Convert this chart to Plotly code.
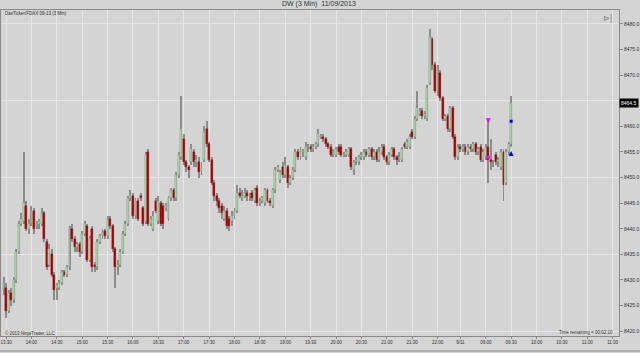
import plotly.graph_objects as go

# ---------------- data ----------------
opens = [8428.0, 8428.5, 8424.0, 8427.5, 8426.0, 8430.0, 8435.5, 8441.0, 8441.5, 8444.5,
         8440.0, 8441.0, 8443.5, 8440.5, 8441.0, 8441.0, 8443.0, 8437.5, 8433.0, 8435.0,
         8431.0, 8428.5, 8428.5, 8429.5, 8431.5, 8431.0, 8432.5, 8440.0, 8438.0, 8436.5,
         8437.0, 8435.5, 8439.0, 8440.5, 8434.0, 8440.0, 8433.0, 8432.5, 8437.5, 8438.5,
         8439.5, 8438.5, 8442.0, 8440.5, 8436.0, 8432.5, 8433.0, 8435.5, 8439.0, 8441.0,
         8446.0, 8446.5, 8442.5, 8445.5, 8446.5, 8444.0, 8441.5, 8455.0, 8441.0, 8440.0,
         8445.5, 8441.5, 8445.0, 8444.5, 8444.0, 8442.0, 8446.0, 8447.5, 8446.0, 8450.5,
         8454.0, 8457.5, 8453.0, 8452.0, 8453.0, 8455.0, 8453.0, 8453.0, 8451.0, 8453.5,
         8459.5, 8456.5, 8453.5, 8449.0, 8446.5, 8445.5, 8444.5, 8442.0, 8443.5, 8442.0,
         8441.5, 8442.5, 8443.5, 8447.0, 8446.0, 8446.5, 8447.0, 8446.5, 8447.0, 8445.5,
         8448.0, 8445.0, 8445.5, 8445.0, 8447.5, 8445.5, 8444.5, 8447.5, 8451.5, 8449.5,
         8452.0, 8450.5, 8452.0, 8449.0, 8450.0, 8451.5, 8455.0, 8454.0, 8455.0, 8454.0,
         8455.5, 8456.0, 8455.5, 8456.0, 8456.5, 8458.0, 8458.0, 8457.5, 8456.5, 8456.0,
         8454.5, 8454.5, 8456.0, 8456.0, 8454.5, 8454.5, 8454.5, 8455.5, 8451.5, 8453.0,
         8453.0, 8454.0, 8454.0, 8455.0, 8454.5, 8455.5, 8454.0, 8455.0, 8453.5, 8455.0,
         8456.0, 8454.0, 8453.0, 8454.5, 8455.5, 8454.0, 8453.5, 8453.5, 8456.5, 8456.0,
         8456.0, 8459.0, 8458.0, 8461.5, 8462.5, 8463.0, 8462.0, 8461.5, 8468.5, 8477.0,
         8472.0, 8467.0, 8470.5, 8465.5, 8461.5, 8462.0, 8459.5, 8463.5, 8458.0, 8454.0,
         8456.0, 8455.5, 8456.0, 8455.0, 8456.0, 8455.5, 8456.5, 8455.0, 8456.0, 8453.5,
         8454.0, 8456.0, 8453.5, 8453.0, 8454.5, 8453.0, 8452.0, 8455.0, 8449.0, 8455.0,
         8456.5]
highs = [8430.5, 8429.5, 8428.0, 8428.5, 8430.5, 8436.0, 8441.5, 8443.0, 8455.0, 8445.5,
         8442.0, 8444.5, 8444.0, 8441.5, 8442.0, 8444.0, 8443.5, 8438.0, 8437.0, 8436.0,
         8431.5, 8429.5, 8430.0, 8432.0, 8432.0, 8433.0, 8440.5, 8441.0, 8438.5, 8437.5,
         8437.5, 8439.5, 8441.5, 8441.0, 8438.5, 8440.5, 8433.5, 8438.0, 8439.0, 8440.0,
         8440.0, 8442.5, 8442.5, 8441.0, 8436.5, 8434.0, 8436.0, 8439.5, 8441.5, 8446.5,
         8447.5, 8447.0, 8446.0, 8446.0, 8447.0, 8444.5, 8455.0, 8455.5, 8442.5, 8443.5,
         8446.0, 8446.5, 8445.5, 8445.0, 8445.0, 8446.5, 8448.0, 8448.0, 8451.0, 8455.0,
         8466.0, 8458.5, 8453.5, 8452.5, 8456.5, 8455.5, 8454.5, 8454.0, 8453.0, 8460.0,
         8461.0, 8457.0, 8454.0, 8449.5, 8447.0, 8446.0, 8445.0, 8444.5, 8444.0, 8442.5,
         8443.5, 8444.0, 8448.5, 8448.0, 8447.5, 8448.0, 8447.5, 8447.0, 8447.5, 8448.0,
         8448.5, 8446.0, 8446.5, 8448.0, 8448.0, 8446.0, 8448.0, 8452.0, 8452.5, 8451.5,
         8453.0, 8454.0, 8452.5, 8450.5, 8452.0, 8455.5, 8455.5, 8456.0, 8455.5, 8457.0,
         8456.5, 8456.5, 8456.5, 8457.0, 8459.5, 8458.5, 8458.5, 8458.0, 8457.0, 8456.5,
         8455.5, 8456.0, 8456.5, 8456.5, 8455.0, 8455.5, 8456.0, 8456.0, 8453.5, 8454.0,
         8454.5, 8455.0, 8455.5, 8455.5, 8456.0, 8456.0, 8455.5, 8455.5, 8456.0, 8456.5,
         8456.5, 8454.5, 8455.0, 8456.0, 8456.0, 8454.5, 8455.0, 8456.0, 8457.0, 8457.5,
         8458.5, 8459.5, 8462.0, 8467.0, 8463.5, 8463.5, 8463.0, 8468.0, 8479.0, 8477.5,
         8472.5, 8472.0, 8471.0, 8466.0, 8462.5, 8462.5, 8464.0, 8464.0, 8458.5, 8456.5,
         8456.5, 8456.5, 8456.5, 8456.5, 8456.5, 8457.0, 8457.0, 8456.0, 8456.5, 8455.5,
         8456.5, 8461.5, 8457.5, 8453.5, 8455.0, 8454.0, 8455.5, 8455.5, 8455.5, 8457.0,
         8466.0]
lows = [8427.0, 8422.5, 8423.5, 8425.0, 8425.5, 8429.5, 8435.0, 8440.5, 8441.0, 8439.5,
        8439.0, 8440.5, 8439.0, 8440.0, 8440.0, 8440.5, 8437.5, 8432.0, 8432.5, 8430.5,
        8426.0, 8426.0, 8428.0, 8429.0, 8430.5, 8430.5, 8432.0, 8437.5, 8435.5, 8435.5,
        8434.5, 8435.0, 8438.5, 8433.5, 8433.5, 8431.5, 8431.5, 8432.0, 8437.0, 8438.0,
        8438.0, 8438.0, 8440.0, 8435.5, 8428.5, 8431.0, 8432.5, 8435.0, 8438.5, 8440.5,
        8445.5, 8442.0, 8442.0, 8441.5, 8445.5, 8440.5, 8441.0, 8440.5, 8440.5, 8439.5,
        8443.0, 8441.0, 8440.5, 8440.0, 8443.5, 8441.5, 8445.5, 8445.5, 8445.5, 8450.0,
        8453.5, 8452.5, 8451.0, 8450.0, 8452.5, 8452.0, 8452.0, 8450.0, 8450.5, 8453.0,
        8456.0, 8453.0, 8448.5, 8445.5, 8444.5, 8443.0, 8442.0, 8441.5, 8440.0, 8439.5,
        8440.5, 8442.0, 8443.0, 8446.0, 8445.5, 8446.0, 8445.5, 8445.5, 8445.5, 8445.0,
        8444.5, 8444.5, 8445.0, 8444.5, 8445.0, 8444.5, 8444.0, 8447.0, 8451.0, 8449.0,
        8450.0, 8450.0, 8448.0, 8448.5, 8449.5, 8451.0, 8453.5, 8453.5, 8454.0, 8453.5,
        8455.0, 8455.0, 8455.0, 8455.5, 8456.0, 8457.5, 8457.0, 8456.0, 8455.5, 8454.0,
        8454.0, 8454.0, 8454.5, 8454.0, 8454.0, 8454.0, 8454.0, 8451.5, 8450.5, 8452.5,
        8452.5, 8453.5, 8453.5, 8454.0, 8454.0, 8453.5, 8453.5, 8453.0, 8453.0, 8454.5,
        8453.5, 8452.5, 8452.5, 8454.0, 8453.5, 8452.5, 8453.0, 8453.0, 8455.5, 8455.5,
        8455.5, 8457.5, 8457.5, 8461.0, 8462.0, 8461.5, 8461.5, 8461.0, 8468.0, 8471.0,
        8466.5, 8466.0, 8465.0, 8461.0, 8461.0, 8459.0, 8459.0, 8457.5, 8453.5, 8453.5,
        8455.0, 8455.0, 8454.5, 8454.5, 8455.0, 8455.0, 8454.5, 8454.5, 8453.0, 8453.0,
        8453.5, 8449.0, 8451.5, 8452.0, 8452.5, 8452.0, 8451.5, 8445.5, 8448.5, 8454.5,
        8456.0]
closes = [8429.5, 8424.0, 8427.5, 8426.0, 8430.0, 8435.5, 8441.0, 8442.0, 8445.0, 8440.0,
          8441.0, 8443.5, 8440.0, 8441.0, 8441.5, 8443.0, 8438.0, 8432.5, 8436.0, 8431.0,
          8428.0, 8429.0, 8429.5, 8431.5, 8431.0, 8432.5, 8440.0, 8438.0, 8436.5, 8437.0,
          8435.5, 8439.0, 8441.0, 8434.0, 8438.0, 8432.5, 8432.5, 8437.5, 8438.5, 8439.5,
          8438.5, 8442.0, 8440.5, 8436.0, 8432.5, 8433.0, 8435.5, 8439.0, 8441.0, 8446.0,
          8446.5, 8442.5, 8445.5, 8442.0, 8446.0, 8441.0, 8454.5, 8441.0, 8442.0, 8442.5,
          8443.5, 8445.5, 8441.0, 8441.0, 8444.5, 8446.0, 8447.5, 8446.0, 8450.5, 8454.5,
          8459.5, 8453.0, 8452.0, 8451.5, 8455.5, 8453.0, 8453.5, 8451.0, 8452.0, 8459.0,
          8456.5, 8453.5, 8449.0, 8446.5, 8445.5, 8444.0, 8443.0, 8443.5, 8440.5, 8440.5,
          8442.5, 8443.5, 8447.0, 8446.5, 8446.5, 8447.0, 8446.5, 8446.5, 8446.0, 8447.5,
          8445.0, 8445.5, 8446.0, 8447.5, 8445.5, 8445.0, 8447.5, 8451.5, 8452.0, 8451.0,
          8450.5, 8452.5, 8449.0, 8450.0, 8451.5, 8455.0, 8454.0, 8455.0, 8455.0, 8456.0,
          8455.5, 8455.5, 8456.0, 8456.5, 8458.5, 8458.0, 8457.5, 8456.5, 8456.0, 8454.5,
          8455.0, 8455.5, 8455.0, 8454.5, 8454.5, 8455.0, 8455.5, 8452.0, 8453.0, 8453.5,
          8454.0, 8454.5, 8455.0, 8454.5, 8455.5, 8454.0, 8455.0, 8453.5, 8455.0, 8456.0,
          8454.0, 8453.0, 8454.5, 8455.5, 8454.0, 8453.5, 8454.0, 8455.5, 8456.0, 8457.0,
          8458.0, 8458.0, 8461.5, 8463.5, 8463.0, 8462.0, 8462.5, 8467.5, 8477.5, 8472.0,
          8467.0, 8471.0, 8465.5, 8461.5, 8462.0, 8459.5, 8463.5, 8458.0, 8454.0, 8456.0,
          8455.5, 8456.0, 8455.0, 8456.0, 8455.5, 8456.5, 8455.0, 8455.5, 8453.5, 8455.0,
          8456.0, 8453.5, 8453.0, 8453.0, 8453.0, 8453.5, 8455.0, 8448.5, 8455.0, 8456.5,
          8464.5]
bars = list(range(len(closes)))

tick_bars = [1, 11, 21, 31, 41, 51, 61, 71, 81, 91, 101, 111, 121, 131, 141, 151, 161, 171,
             180, 190, 200, 210, 220, 230, 240]
tick_text = ["13:30", "14:00", "14:30", "15:00", "15:30", "16:00", "16:30", "17:00", "17:30",
             "18:00", "18:30", "19:00", "19:30", "20:00", "20:30", "21:00", "21:30", "22:00",
             "9/11", "09:00", "09:30", "10:00", "10:30", "11:00", "11:30"]

price_ticks = [8420, 8425, 8430, 8435, 8440, 8445, 8450, 8455, 8460, 8465, 8470, 8475, 8480]
price_labels = ["8420.0", "8425.0", "8430.0", "8435.0", "8440.0", "8445.0", "8450.0",
                "8455.0", "8460.0", "", "8470.0", "8475.0", "8480.0"]
grid_levels = [8420, 8435, 8450, 8465, 8480]

sell_bar = [191]
sell_arrow = [8460.6]
sell_fill = [8454.0]
buy_bar = [200]
buy_arrow = [8455.2]
buy_fill = [8461.0]

y_range = [8419.06, 8482.73]
x_range = [-1.0, 242.5]

BG = "#d4d4d4"
GRID = "#e6e6e6"
FONT = "Liberation Sans"
UP = "#a9d7a9"
DOWN = "#ac0000"
WICK = "#8c8c8c"

wick_size = [h - l for h, l in zip(highs, lows)]
body_base = [min(o, c) for o, c in zip(opens, closes)]
body_size = [max(abs(c - o), 0.12) for o, c in zip(opens, closes)]
body_color = [UP if c >= o else DOWN for o, c in zip(opens, closes)]
body_line = ["#7f907f" if c >= o else "#8a2020" for o, c in zip(opens, closes)]

fig = go.Figure()
# wicks
fig.add_trace(go.Bar(
    x=bars, y=wick_size, base=lows, width=0.38,
    marker=dict(color=WICK, line=dict(width=0)),
    showlegend=False, hoverinfo="skip",
))
# candle bodies
fig.add_trace(go.Bar(
    x=bars, y=body_size, base=body_base, width=0.75,
    marker=dict(color=body_color, line=dict(color=body_line, width=0.4)),
    showlegend=False, hoverinfo="skip",
))
fig.add_trace(go.Scatter(x=sell_bar, y=sell_arrow, mode="markers", showlegend=False,
                         marker=dict(symbol="arrow-down", size=5, color="#ff00ff")))
fig.add_trace(go.Scatter(x=sell_bar, y=sell_fill, mode="markers", showlegend=False,
                         marker=dict(symbol="square", size=3, color="#ff00ff")))
fig.add_trace(go.Scatter(x=buy_bar, y=buy_arrow, mode="markers", showlegend=False,
                         marker=dict(symbol="arrow-up", size=5, color="#0000ff")))
fig.add_trace(go.Scatter(x=buy_bar, y=buy_fill, mode="markers", showlegend=False,
                         marker=dict(symbol="square", size=3, color="#0000ff")))
# invisible trace to carry the coarse horizontal grid axis
fig.add_trace(go.Scatter(x=[bars[0]], y=[closes[0]], yaxis="y2", mode="markers",
                         marker=dict(opacity=0), showlegend=False, hoverinfo="skip"))

fig.update_layout(
    width=640, height=353,
    margin=dict(l=0, r=19, t=10, b=17),
    paper_bgcolor=BG, plot_bgcolor=BG,
    barmode="overlay", bargap=0,
    font=dict(family=FONT, size=5, color="#333333"),
    xaxis=dict(range=x_range, tickmode="array", tickvals=tick_bars, ticktext=tick_text,
               showgrid=True, gridcolor=GRID, gridwidth=1, zeroline=False,
               showline=True, linecolor="#8a8a8a", linewidth=1, mirror=True,
               ticks="outside", ticklen=2, tickcolor="#8a8a8a", ticklabeloverflow="allow",
               tickfont=dict(size=4.5, color="#333333"), fixedrange=True),
    yaxis=dict(range=y_range, side="right", tickmode="array", tickvals=price_ticks,
               ticktext=price_labels,
               showgrid=False, zeroline=False, showline=True, linecolor="#8a8a8a",
               linewidth=1, mirror=True, ticks="outside", ticklen=3, tickcolor="#8a8a8a",
               tickfont=dict(size=5, color="#333333")),
    yaxis2=dict(range=y_range, overlaying="y", side="right", tickmode="array",
                tickvals=grid_levels, showgrid=True, gridcolor=GRID, gridwidth=1,
                showticklabels=False, ticks="", zeroline=False, showline=False),
)

last_close = closes[-1]
fig.add_annotation(x=1.0, xref="paper", y=last_close, yref="y", xanchor="left",
                   text="%.1f" % last_close, showarrow=False, bgcolor="#000000",
                   font=dict(size=5, color="#ffffff", family=FONT), borderpad=1)
fig.add_annotation(x=320 / 621, xref="paper", y=1.017, yref="paper", yanchor="middle",
                   text="DW (3 Min)  11/09/2013", showarrow=False,
                   font=dict(size=7, color="#333333", family=FONT))
fig.add_annotation(x=0.003, xref="paper", y=0.988, yref="paper", xanchor="left",
                   yanchor="middle", text="DaxTicker/FDAX 09-13 (3 Min)", showarrow=False,
                   font=dict(size=4.5, color="#333333", family=FONT))
fig.add_annotation(x=0.003, xref="paper", y=0.01, yref="paper", xanchor="left",
                   yanchor="middle", text="© 2013 NinjaTrader, LLC", showarrow=False,
                   font=dict(size=4.5, color="#333333", family=FONT))
fig.add_annotation(x=0.993, xref="paper", y=0.012, yref="paper", xanchor="right",
                   yanchor="middle", text="Time remaining = 00:02:10", showarrow=False,
                   font=dict(size=4.5, color="#333333", family=FONT))
fig.add_annotation(x=0.982, xref="paper", y=0.975, yref="paper", xanchor="center",
                   yanchor="middle", text="⊳|", showarrow=False,
                   font=dict(size=8, color="#7a7a7a", family="DejaVu Sans"))
fig.add_shape(type="line", xref="paper", yref="paper", x0=-0.01, x1=1.04, y0=-0.046,
              y1=-0.046, line=dict(color="#8a8a8a", width=1))

fig.write_html("out.html")
